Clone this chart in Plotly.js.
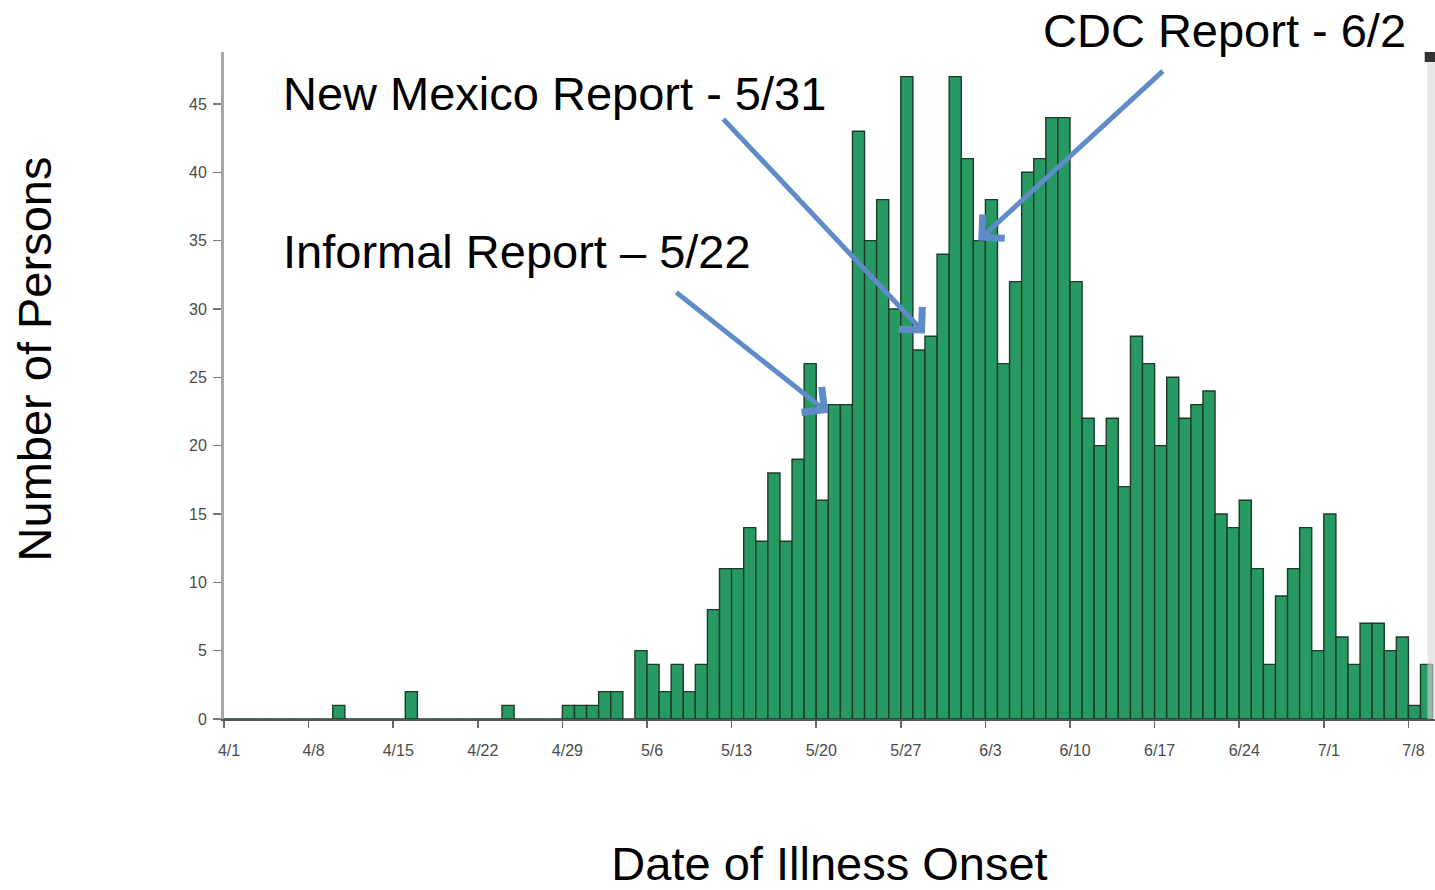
<!DOCTYPE html>
<html>
<head>
<meta charset="utf-8">
<script src="https://cdn.plot.ly/plotly-3.0.1.min.js"></script>
<style>
  html, body { margin: 0; padding: 0; background: #ffffff; }
  #chart { width: 1435px; height: 890px; }
</style>
</head>
<body>
<div id="chart"></div>
<script>
// Daily counts of persons by date of illness onset, starting 4/1 (one value per day)
const counts = [
  0, 0, 0, 0, 0, 0, 0, 0, 0, 1,      // 4/1 - 4/10
  0, 0, 0, 0, 0, 2, 0, 0, 0, 0,      // 4/11 - 4/20
  0, 0, 0, 1, 0, 0, 0, 0, 1, 1,      // 4/21 - 4/30
  1, 2, 2, 0, 5, 4, 2, 4, 2, 4,      // 5/1 - 5/10
  8, 11, 11, 14, 13, 18, 13, 19, 26, 16, // 5/11 - 5/20
  23, 23, 43, 35, 38, 30, 47, 27, 28, 34, // 5/21 - 5/30
  47, 41, 35, 38, 26, 32, 40, 41, 44, 44, // 5/31 - 6/9
  32, 22, 20, 22, 17, 28, 26, 20, 25, 22, // 6/10 - 6/19
  23, 24, 15, 14, 16, 11, 4, 9, 11, 14,   // 6/20 - 6/29
  5, 15, 6, 4, 7, 7, 5, 6, 1, 4          // 6/30 - 7/9
];
// Tick labels every 7 days (day offset from 4/1)
const tickDays   = [0, 7, 14, 21, 28, 35, 42, 49, 56, 63, 70, 77, 84, 91, 98];
const tickLabels = ['4/1', '4/8', '4/15', '4/22', '4/29', '5/6', '5/13', '5/20', '5/27', '6/3', '6/10', '6/17', '6/24', '7/1', '7/8'];
const yTicks = [0, 5, 10, 15, 20, 25, 30, 35, 40, 45];

const reportLabels = ['Informal Report \u2013 5/22', 'New Mexico Report - 5/31', 'CDC Report - 6/2'];
const xTitle = 'Date of Illness Onset';
const yTitle = 'Number of Persons';

const xDays = counts.map((c, i) => i + 0.5); // each day's bar spans its own day

const trace = {
  type: 'bar',
  x: xDays,
  y: counts,
  width: 1,
  marker: {
    color: 'rgb(38,154,98)',
    line: { color: 'rgb(28,58,42)', width: 1.4 }
  },
  hoverinfo: 'y'
};

const arrowColor = 'rgb(95,140,200)';
const font = 'Liberation Sans, Arial, sans-serif';
const titleFont = { family: font, size: 47, color: '#000000' };
const tickFont = { family: font, size: 16, color: '#4a4a4a' };

const layout = {
  width: 1435,
  height: 890,
  margin: { l: 224, r: 0, t: 52, b: 171 },
  paper_bgcolor: '#ffffff',
  plot_bgcolor: '#ffffff',
  showlegend: false,
  bargap: 0,
  xaxis: {
    range: [0, 100.2],
    tickmode: 'array',
    tickvals: tickDays,
    ticktext: tickLabels,
    ticks: 'outside',
    ticklen: 7,
    tickwidth: 1.5,
    tickcolor: '#666666',
    ticklabelshift: 5,
    ticklabelstandoff: 9,
    showline: true,
    linecolor: '#555555',
    linewidth: 2,
    showgrid: false,
    zeroline: false,
    tickfont: tickFont,
    title: { text: xTitle, font: titleFont, standoff: 96 }
  },
  yaxis: {
    range: [0, 48.8],
    tickmode: 'array',
    tickvals: yTicks,
    ticks: 'outside',
    ticklen: 8,
    tickwidth: 1.5,
    tickcolor: '#777777',
    ticklabelstandoff: 3,
    showline: true,
    linecolor: '#a8a8a8',
    linewidth: 3,
    showgrid: false,
    zeroline: false,
    tickfont: tickFont
  },
  shapes: [
    { type: 'rect', xref: 'paper', yref: 'paper', x0: 0.9937, x1: 1.0, y0: 0, y1: 1,
      fillcolor: 'rgba(215,215,215,0.6)', line: { width: 0 }, layer: 'above' },
    { type: 'rect', xref: 'paper', yref: 'paper', x0: 0.9915, x1: 1.0, y0: 0.985, y1: 1.0,
      fillcolor: '#333333', line: { width: 0 }, layer: 'above' }
  ],
  annotations: [
    // y-axis title
    { x: -0.1561, y: 0.5405, xref: 'paper', yref: 'paper', xanchor: 'center', yanchor: 'middle',
      textangle: -90, text: yTitle, showarrow: false, font: titleFont },
    // arrows (tip and tail in data coordinates)
    { x: 50.0, y: 22.4, ax: 37.3, ay: 31.3, axref: 'x', ayref: 'y', xref: 'x', yref: 'y',
      text: '', showarrow: true, arrowhead: 4, arrowsize: 1.25, arrowwidth: 5, arrowcolor: arrowColor, standoff: 0 },
    { x: 58.0, y: 28.2, ax: 41.2, ay: 44.0, axref: 'x', ayref: 'y', xref: 'x', yref: 'y',
      text: '', showarrow: true, arrowhead: 4, arrowsize: 1.25, arrowwidth: 5, arrowcolor: arrowColor, standoff: 0 },
    { x: 62.4, y: 35.0, ax: 77.8, ay: 47.5, axref: 'x', ayref: 'y', xref: 'x', yref: 'y',
      text: '', showarrow: true, arrowhead: 4, arrowsize: 1.25, arrowwidth: 5, arrowcolor: arrowColor, standoff: 0 },
    // report labels
    { x: 4.7, y: 34.2, xref: 'x', yref: 'y', xanchor: 'left', yanchor: 'middle',
      text: reportLabels[0], showarrow: false, font: titleFont },
    { x: 4.7, y: 45.8, xref: 'x', yref: 'y', xanchor: 'left', yanchor: 'middle',
      text: reportLabels[1], showarrow: false, font: titleFont },
    { x: 0.675, y: 1.0315, xref: 'paper', yref: 'paper', xanchor: 'left', yanchor: 'middle',
      text: reportLabels[2], showarrow: false, font: titleFont }
  ]
};

Plotly.newPlot('chart', [trace], layout, { displayModeBar: false, staticPlot: true });
</script>
</body>
</html>
